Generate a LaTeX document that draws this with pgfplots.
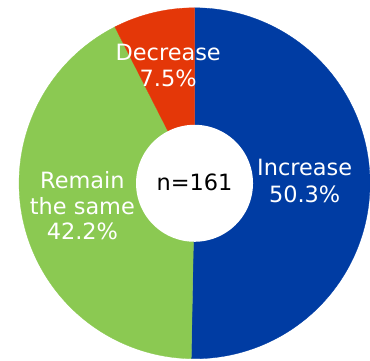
\documentclass[border=0pt]{standalone}
\usepackage{fontspec}
\setmainfont{DejaVu Sans}
\usepackage{pgfplots}
\usepackage{pgfplotstable}
\pgfplotsset{compat=1.18}
\definecolor{cblue}{RGB}{0,60,163}
\definecolor{cgreen}{RGB}{139,201,82}
\definecolor{cred}{RGB}{228,55,8}
\pgfplotstableread{
label value
Increase 50.3
Remain 42.2
Decrease 7.5
}\datatable
\begin{document}
\pgfplotstablegetelem{0}{value}\of\datatable\let\vA\pgfplotsretval
\pgfplotstablegetelem{1}{value}\of\datatable\let\vB\pgfplotsretval
\pgfplotstablegetelem{2}{value}\of\datatable\let\vC\pgfplotsretval
\pgfmathsetmacro\aA{90-3.6*\vA}
\pgfmathsetmacro\aB{\aA-3.6*\vB}
\pgfmathsetmacro\aC{\aB-3.6*\vC}
\begin{tikzpicture}
\begin{axis}[
  name=ax,
  hide axis, scale only axis, width=370pt, height=370pt,
  xmin=-190, xmax=180, ymin=-182, ymax=188, clip=false,
]
\addplot[fill=cblue, draw=cblue, line width=0.3pt, domain=\aA:90, samples=150, variable=\t] ({180*cos(\t)},{180*sin(\t)}) -- (0,0) -- cycle;
\addplot[fill=cgreen, draw=cgreen, line width=0.3pt, domain=\aB:\aA, samples=150, variable=\t] ({180*cos(\t)},{180*sin(\t)}) -- (0,0) -- cycle;
\addplot[fill=cred, draw=cred, line width=0.3pt, domain=\aC:\aB, samples=40, variable=\t] ({180*cos(\t)},{180*sin(\t)}) -- (0,0) -- cycle;
\addplot[fill=white, draw=none, domain=0:360, samples=150, variable=\t] ({60*cos(\t)},{60*sin(\t)}) -- cycle;
\node[align=center, text=white, font=\fontsize{23}{27.5}\selectfont] at (axis cs:113,2) {Increase\\\vA\%};
\node[align=center, text=white, font=\fontsize{23}{26.5}\selectfont] at (axis cs:-115,-23) {Remain\\the same\\\vB\%};
\node[align=center, text=white, font=\fontsize{23}{27}\selectfont] at (axis cs:-27,121) {Decrease\\\vC\%};
\node[text=black, font=\fontsize{23}{27}\selectfont] at (axis cs:0,1) {n=161};
\end{axis}
\pgfresetboundingbox
\path (ax.south west) rectangle (ax.north east);
\end{tikzpicture}
\end{document}
